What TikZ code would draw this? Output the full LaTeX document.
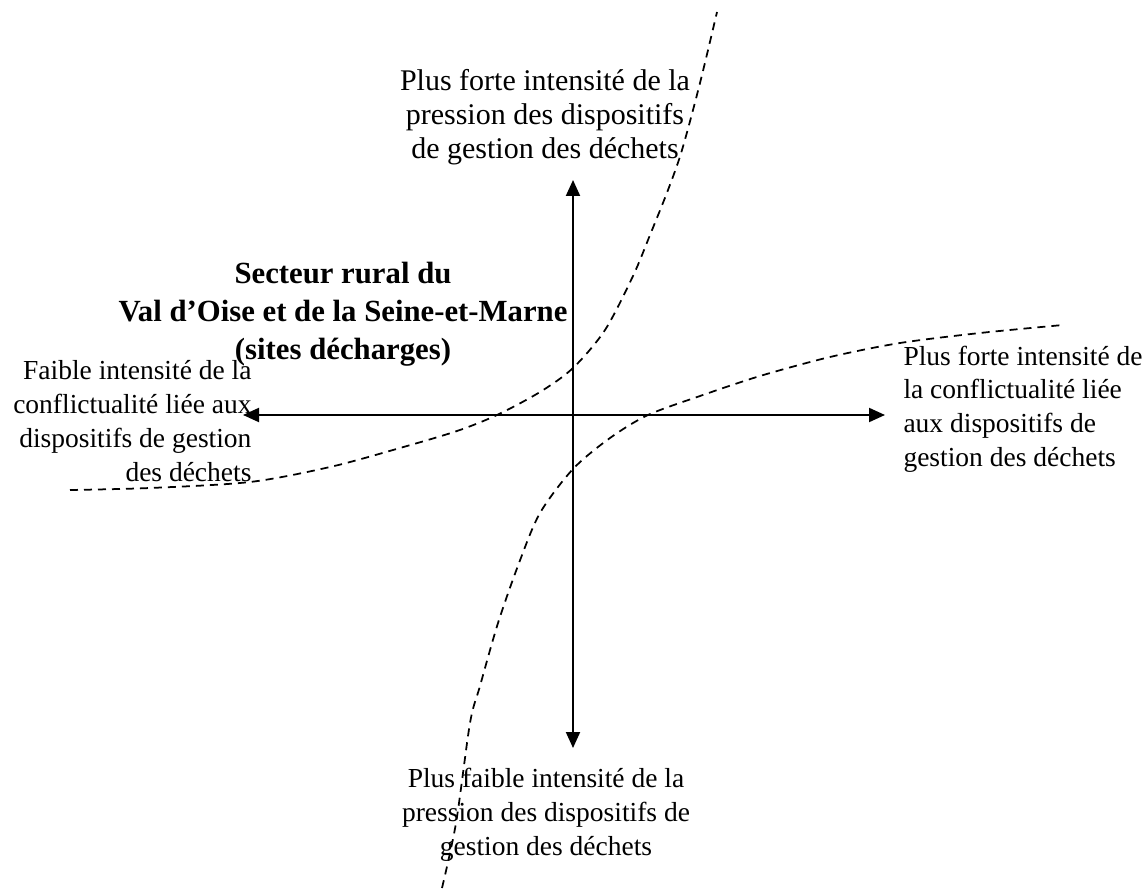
\documentclass[tikz,border=0pt]{standalone}
\usepackage{fontspec}
\setmainfont{Liberation Serif}
\usetikzlibrary{arrows.meta}

\begin{document}
\begin{tikzpicture}[x=0.4pt,y=-0.4pt,
    every node/.style={font=\fontsize{11}{13.5}\selectfont,inner sep=0pt},
    axe/.style={line width=0.8pt,{Triangle[length=6.4pt,width=5.6pt]}-{Triangle[length=6.4pt,width=5.6pt]}},
    courbe/.style={line width=0.7pt,dash pattern=on 3.2pt off 2.4pt}]
      \useasboundingbox (0,0) rectangle (1144,891);
      % axes
      \coordinate (haut) at (573,180);
      \coordinate (bas) at (573,748);
      \coordinate (gauche) at (243,415);
      \coordinate (droite) at (885,415);
      \draw[axe] (bas) -- (haut);
      \draw[axe] (gauche) -- (droite);
      % courbes
      \draw[courbe] plot[smooth] coordinates {(70,490) (150,488) (250,482) (330,467) (400,448) (457,431)
        (497,415) (540,392) (573,368) (605,330) (633,276) (650,235) (668,190) (682,150) (700,83) (717,12)};
      \draw[courbe] plot[smooth] coordinates {(442,888) (456,823) (470,723) (480,686) (498,623) (519,563)
        (540,513) (573,469) (610,438) (648,415) (700,396) (760,376) (830,357) (900,343) (980,333) (1063,325)};
      % textes
      \node[align=center,font=\fontsize{12}{13.5}\selectfont] (pressionplus) at (545,117) {Plus forte intensité de la\\pression des dispositifs\\de gestion des déchets};
      \node[align=center] (pressionmoins) at (546,815) {Plus faible intensité de la\\pression des dispositifs de\\gestion des déchets};
      \node[align=right,anchor=east] (conflitmoins) at (252,421) {Faible intensité de la\\conflictualité liée aux\\dispositifs de gestion\\des déchets};
      \node[align=left,anchor=west] (conflitplus) at (903,409) {Plus forte intensité de\\la conflictualité liée\\aux dispositifs de\\gestion des déchets};
      \node[align=center,font=\fontsize{12.3}{15.2}\selectfont\bfseries] (secteur) at (343,314) {Secteur rural du\\Val d’Oise et de la Seine-et-Marne\\(sites décharges)};
    \end{tikzpicture}
\end{document}
